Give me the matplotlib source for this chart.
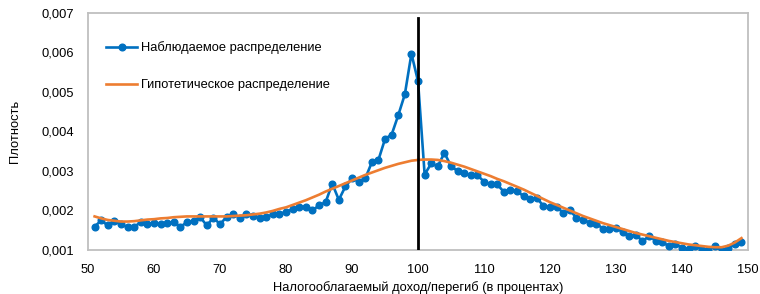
import matplotlib
matplotlib.use("Agg")
import matplotlib.pyplot as plt
from matplotlib.ticker import FuncFormatter, MultipleLocator

plt.rcParams['font.family'] = ['Liberation Sans', 'DejaVu Sans']

x_vals = list(range(51, 150))

observed = [
    0.00159, 0.00175, 0.00162, 0.00173, 0.00165, 0.00158, 0.00159, 0.00170, 0.00165, 0.00169,  # 51-60
    0.00165, 0.00169, 0.00170, 0.00159, 0.00170, 0.00173, 0.00183, 0.00162, 0.00182, 0.00165,  # 61-70
    0.00184, 0.00190, 0.00182, 0.00192, 0.00187, 0.00182, 0.00184, 0.00190, 0.00192, 0.00196,  # 71-80
    0.00204, 0.00208, 0.00210, 0.00200, 0.00213, 0.00221, 0.00268, 0.00227, 0.00261, 0.00281,  # 81-90
    0.00273, 0.00281, 0.00322, 0.00328, 0.00381, 0.00392, 0.00441, 0.00494, 0.00597, 0.00527,  # 91-100
    0.00291, 0.00319, 0.00312, 0.00346, 0.00312, 0.00300, 0.00294, 0.00289, 0.00289, 0.00273,  # 101-110
    0.00266, 0.00266, 0.00247, 0.00251, 0.00249, 0.00236, 0.00230, 0.00232, 0.00211, 0.00209,  # 111-120
    0.00209, 0.00194, 0.00200, 0.00182, 0.00177, 0.00169, 0.00167, 0.00154, 0.00152, 0.00156,  # 121-130
    0.00145, 0.00135, 0.00139, 0.00122, 0.00135, 0.00124, 0.00120, 0.00110, 0.00114, 0.00106,  # 131-140
    0.00103, 0.00110, 0.00101, 0.00101, 0.00110, 0.00097, 0.00106, 0.00114, 0.00120,           # 141-149
]

hypothetical = [
    0.00185, 0.00180, 0.00176, 0.00174, 0.00172, 0.00172, 0.00173, 0.00175, 0.00177, 0.00178,  # 51-60
    0.00180, 0.00181, 0.00183, 0.00184, 0.00185, 0.00185, 0.00185, 0.00185, 0.00185, 0.00185,  # 61-70
    0.00185, 0.00186, 0.00187, 0.00188, 0.00190, 0.00192, 0.00195, 0.00199, 0.00204, 0.00208,  # 71-80
    0.00214, 0.00220, 0.00226, 0.00233, 0.00240, 0.00248, 0.00255, 0.00262, 0.00269, 0.00276,  # 81-90
    0.00283, 0.00290, 0.00296, 0.00302, 0.00308, 0.00313, 0.00318, 0.00322, 0.00326, 0.00328,  # 91-100
    0.00329, 0.00329, 0.00328, 0.00325, 0.00321, 0.00316, 0.00311, 0.00305, 0.00299, 0.00293,  # 101-110
    0.00287, 0.00280, 0.00274, 0.00267, 0.00260, 0.00253, 0.00245, 0.00237, 0.00229, 0.00221,  # 111-120
    0.00214, 0.00207, 0.00200, 0.00193, 0.00186, 0.00180, 0.00174, 0.00168, 0.00163, 0.00158,  # 121-130
    0.00153, 0.00148, 0.00143, 0.00139, 0.00135, 0.00131, 0.00127, 0.00123, 0.00120, 0.00117,  # 131-140
    0.00114, 0.00112, 0.00110, 0.00108, 0.00107, 0.00107, 0.00111, 0.00119, 0.00130,           # 141-149
]

cutoff_x = 100
cutoff_top = 0.00688

label_observed = "Наблюдаемое распределение"
label_hypo = "Гипотетическое распределение"
x_label = "Налогооблагаемый доход/перегиб (в процентах)"
y_label = "Плотность"

fig = plt.figure(figsize=(7.6, 2.94), dpi=100)
ax = fig.add_axes([0.1158, 0.1497, 0.8685, 0.8061])

ax.plot(x_vals, observed, color="#0070C0", lw=1.9, marker="o", ms=4.8,
        label=label_observed, zorder=3)
ax.plot(x_vals, hypothetical, color="#ED7D31", lw=1.9, label=label_hypo, zorder=4)
ax.plot([cutoff_x, cutoff_x], [0.001, cutoff_top], color="black", lw=2.0, zorder=5)

ax.set_xlim(50, 150)
ax.set_ylim(0.001, 0.007)
ax.xaxis.set_major_locator(MultipleLocator(10))
ax.yaxis.set_major_locator(MultipleLocator(0.001))
ax.yaxis.set_major_formatter(FuncFormatter(lambda v, p: f"{v:.3f}".replace(".", ",")))
ax.tick_params(length=0, labelsize=9.3, colors="#000000")
ax.tick_params(axis="y", pad=10)
ax.tick_params(axis="x", pad=10)

for s in ax.spines.values():
    s.set_color("#BFBFBF")
    s.set_linewidth(1.3)

ax.set_xlabel(x_label, fontsize=9.3, labelpad=4)
ax.set_ylabel(y_label, fontsize=9.3, labelpad=15)

leg = ax.legend(loc="upper left", bbox_to_anchor=(0.01, 0.93), frameon=False,
                fontsize=9.3, labelspacing=1.95, handlelength=2.4, handletextpad=0.3)

fig.savefig("out.png", dpi=100)
